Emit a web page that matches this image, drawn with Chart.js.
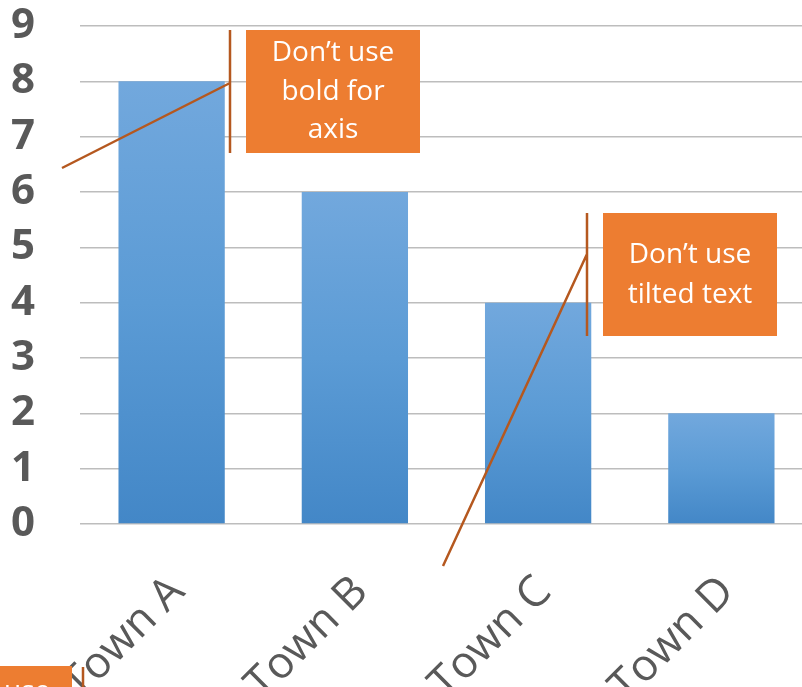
<!DOCTYPE html>
<html>
<head>
<meta charset="utf-8">
<script src="https://cdn.jsdelivr.net/npm/chart.js@4.4.1/dist/chart.umd.min.js"></script>
<style>
  html, body { margin: 0; padding: 0; background: #fff; overflow: hidden; }
  #wrap { width: 802px; height: 687px; overflow: hidden; position: relative; }
  canvas { display: block; }
</style>
</head>
<body>
<div id="wrap"><canvas id="chart" width="813" height="687"></canvas></div>
<script>
const categories = ["Town A", "Town B", "Town C", "Town D"];
const values = [8, 6, 4, 2];
const yTicks = [0, 1, 2, 3, 4, 5, 6, 7, 8, 9];

const barTop = "#72a8dd";
const barMid = "#5b9bd5";
const barBottom = "#4387c7";
const boxColor = "#ed7d31";
const lineColor = "#b5581f";

function barGradient(context) {
  const chart = context.chart;
  if (!chart.chartArea || context.type !== "data") {
    return barMid;
  }
  const yScale = chart.scales.y;
  const top = yScale.getPixelForValue(context.parsed.y);
  const base = yScale.getPixelForValue(0);
  const gradient = chart.ctx.createLinearGradient(0, top, 0, base);
  gradient.addColorStop(0, barTop);
  gradient.addColorStop(0.5, barMid);
  gradient.addColorStop(1, barBottom);
  return gradient;
}

// orange call-out boxes drawn on top of the chart
const callouts = {
  id: "callouts",
  afterDraw(chart) {
    const ctx = chart.ctx;
    ctx.save();

    ctx.fillStyle = boxColor;
    ctx.fillRect(246, 30, 174, 123);
    ctx.fillRect(603, 213, 174, 123);
    ctx.fillRect(0, 666, 72, 30);

    ctx.fillStyle = "#ffffff";
    ctx.font = "28px 'Open Sans'";
    ctx.textAlign = "center";
    ctx.textBaseline = "middle";
    ctx.fillText("Don’t use", 333, 53);
    ctx.fillText("bold for", 333, 92);
    ctx.fillText("axis", 333, 130);
    ctx.fillText("Don’t use", 690, 255);
    ctx.fillText("tilted text", 690, 295);
    ctx.textAlign = "left";
    ctx.textBaseline = "alphabetic";
    ctx.fillText("use", 4, 700);

    ctx.strokeStyle = lineColor;
    ctx.lineWidth = 2.5;
    ctx.beginPath();
    ctx.moveTo(230, 30);
    ctx.lineTo(230, 153);
    ctx.moveTo(62, 168);
    ctx.lineTo(230, 83);
    ctx.moveTo(587, 213);
    ctx.lineTo(587, 336);
    ctx.moveTo(443, 566);
    ctx.lineTo(587, 254);
    ctx.moveTo(83, 667);
    ctx.lineTo(83, 690);
    ctx.stroke();

    ctx.restore();
  }
};

new Chart(document.getElementById("chart"), {
  type: "bar",
  data: {
    labels: categories,
    datasets: [
      {
        data: values,
        backgroundColor: barGradient,
        borderWidth: 0,
        categoryPercentage: 1,
        barPercentage: 0.58
      }
    ]
  },
  options: {
    responsive: false,
    animation: false,
    layout: {
      padding: { top: 26, right: 0, left: 0, bottom: 0 }
    },
    plugins: {
      legend: { display: false },
      tooltip: { enabled: false }
    },
    scales: {
      x: {
        grid: { display: false },
        border: { display: false },
        afterFit: (scale) => {
          scale.height = 163;
          scale.paddingLeft = 0;
          scale.paddingRight = 0;
        },
        ticks: {
          autoSkip: false,
          minRotation: 45,
          maxRotation: 45,
          padding: 34,
          labelOffset: 6,
          color: "#595959",
          font: { family: "'Open Sans'", size: 44 }
        }
      },
      y: {
        min: 0,
        max: 9,
        afterFit: (scale) => {
          scale.width = 80;
          scale.paddingTop = 0;
          scale.paddingBottom = 0;
        },
        afterBuildTicks: (scale) => {
          scale.ticks = yTicks.map((v) => ({ value: v }));
        },
        grid: {
          color: "#bdbdbd",
          lineWidth: 1.5,
          drawTicks: false
        },
        border: { display: false },
        ticks: {
          autoSkip: false,
          padding: 45,
          color: "#595959",
          font: { family: "'Open Sans'", size: 42, weight: "bold" }
        }
      }
    }
  },
  plugins: [callouts]
});
</script>
</body>
</html>
